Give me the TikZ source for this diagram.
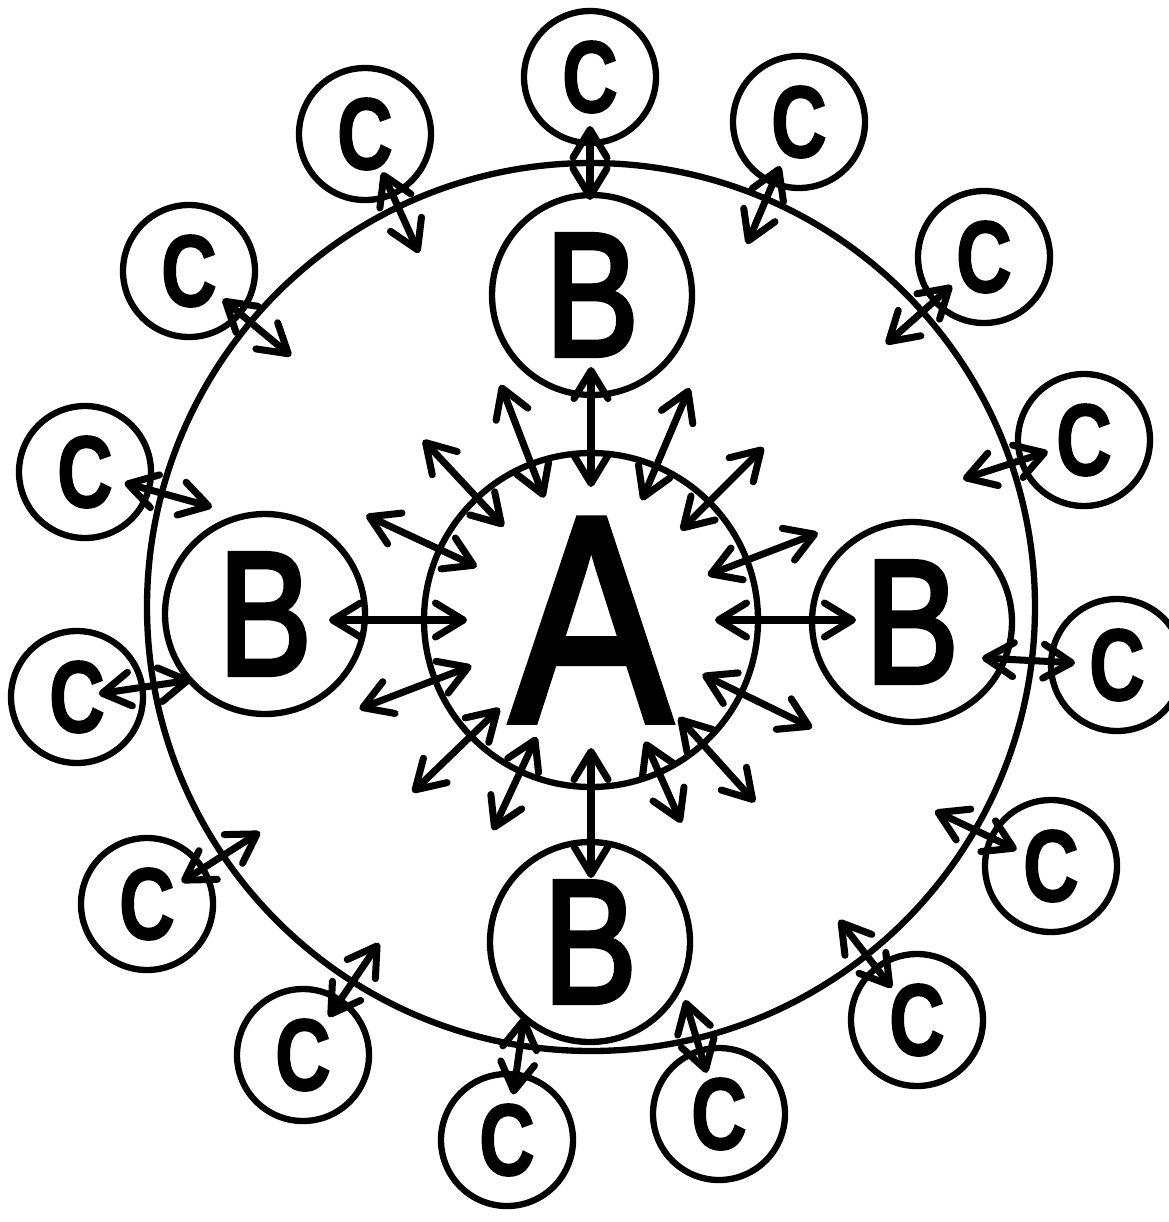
\documentclass[tikz,border=0pt]{standalone}
\usepackage{fontspec}
\setmainfont{Liberation Sans}
\newfontfamily\heavyfont[FakeBold=3]{Liberation Sans}
\newfontfamily\heavyCfont[FakeBold=1.5]{Liberation Sans Bold}
\usetikzlibrary{arrows.meta,calc}

\tikzset{
  ring/.style={draw, circle, line width=1.8pt, inner sep=0pt},
  nodeA/.style={ring, minimum size=33.4mm, font=\heavyfont\fontsize{83pt}{83pt}\selectfont},
  nodeB/.style={ring, minimum size=20mm, font=\heavyfont\fontsize{50pt}{50pt}\selectfont},
  nodeC/.style={ring, minimum size=13.2mm, font=\heavyCfont\fontsize{29pt}{29pt}\selectfont},
  tipC/.tip={Straight Barb[length=2.8mm,width=3.4mm,round]},
  link/.style={line width=2pt, arrows={tipC-tipC}},
}

\begin{document}
\begin{tikzpicture}[x=0.1mm, y=-0.1mm]
\useasboundingbox (0,0) rectangle (1169,1222);

% outer ring
\draw[line width=1.8pt] (591,607) circle [radius=444];

% centre and the four B
\node[nodeA] (A) at (591,620) {\scalebox{0.82}[1]{A}};
\node[nodeB] (Bt) at (592,295) {\scalebox{0.8}[1]{B}};
\node[nodeB] (Bl) at (265,614) {\scalebox{0.8}[1]{B}};
\node[nodeB] (Br) at (912,622) {\scalebox{0.8}[1]{B}};
\node[nodeB] (Bb) at (590,942) {\scalebox{0.8}[1]{B}};

% A to the ring
\foreach \ang/\ri/\ro in {-90/133/253, -111/131/252, -67/130/252, -133/128/246,
    -45/127/244, -155/126/248, -21/125/243, 180/124/262, 0/124/265,
    159/128/248, 26/124/246, 136/127/248, 48/131/245, 115/129/232,
    66/133/222, 90/128/258}
  \draw[link] ($(A)+(\ang:\ri)$) -- ($(A)+(\ang:\ro)$);

% outer C
\foreach \i/\x/\y in {1/590/77, 2/365/134, 3/799/122, 4/189/271, 5/984/257,
    6/85/472, 7/1084/440, 8/77/697, 9/1117/665, 10/147/904, 11/1051/866,
    12/303/1055, 13/917/1020, 14/507/1140, 15/719/1114}
  \node[nodeC] (c\i) at (\x,\y) {\scalebox{0.76}[1]{C}};

% C into the ring
\foreach \i/\x/\y/\d in {1/590/200/4.9mm, 2/419/253/4.2mm, 3/747/244/4.8mm,
    4/291/356/4.4mm, 5/886/344/4.3mm, 6/212/507/4.1mm, 7/963/479/3.8mm,
    8/191/680/2.2mm, 9/982/658/4.2mm, 10/260/832/4.1mm, 11/935/811/3.8mm,
    12/379/943/4.6mm, 13/839/920/4.1mm, 14/524/1017/4.6mm, 15/685/1000/4.3mm}
{
  \coordinate (t\i) at (\x,\y);
  \draw[link] ($(c\i)!\d!(t\i)$) -- (t\i);
}
\end{tikzpicture}
\end{document}
